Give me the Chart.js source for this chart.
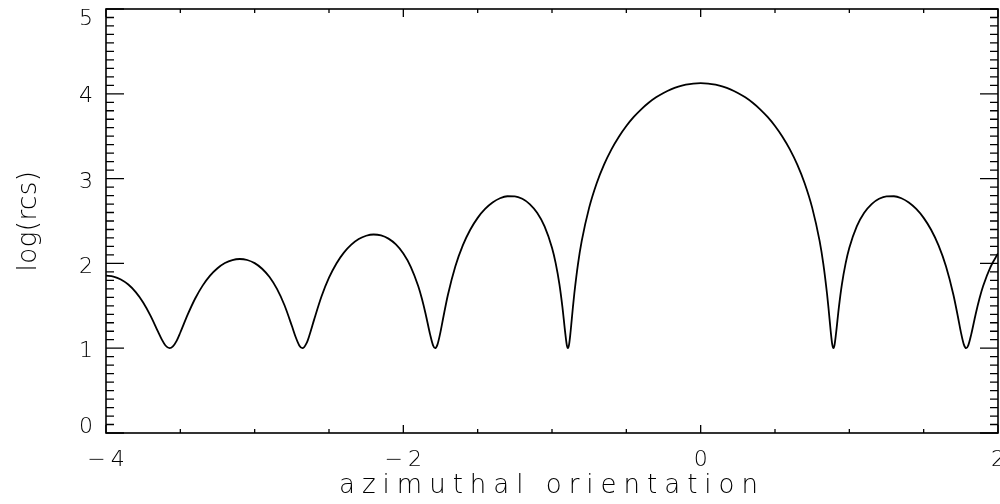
<!DOCTYPE html>
<html>
<head>
<meta charset="utf-8">
<script src="https://cdn.jsdelivr.net/npm/chart.js@4.4.1/dist/chart.umd.min.js"></script>
<style>
html,body{margin:0;padding:0;background:#fff;}
#wrap{width:1000px;height:504px;position:relative;}
</style>
</head>
<body>
<div id="wrap"><canvas id="c" width="1000" height="504"></canvas></div>
<script>
// ---- data ----
const orientation = [
  -4.00,-3.95,-3.90,-3.85,-3.80,-3.75,-3.70,-3.65,-3.625,-3.60,-3.572,-3.55,-3.525,-3.50,-3.45,-3.40,-3.35,-3.30,-3.25,-3.20,
  -3.15,-3.10,-3.05,-3.00,-2.95,-2.90,-2.85,-2.80,-2.75,-2.725,-2.70,-2.679,-2.65,-2.63,-2.60,-2.55,-2.50,-2.45,-2.40,-2.35,
  -2.30,-2.25,-2.20,-2.15,-2.10,-2.05,-2.00,-1.95,-1.90,-1.875,-1.85,-1.82,-1.80,-1.786,-1.77,-1.75,-1.73,-1.70,-1.65,-1.60,
  -1.55,-1.50,-1.45,-1.40,-1.35,-1.30,-1.25,-1.20,-1.15,-1.10,-1.05,-1.00,-0.975,-0.95,-0.93,-0.91,-0.90,-0.893,-0.885,-0.875,
  -0.87,-0.86,-0.85,-0.825,-0.80,-0.75,-0.70,-0.65,-0.60,-0.55,-0.50,-0.45,-0.40,-0.35,-0.30,-0.25,-0.20,-0.15,-0.10,-0.05,
  0.00,
  0.05,0.10,0.15,0.20,0.25,0.30,0.35,0.40,0.45,0.50,0.55,0.60,0.65,0.70,0.75,0.80,0.825,0.85,0.86,0.87,
  0.875,0.885,0.893,0.90,0.91,0.93,0.95,0.975,1.00,1.05,1.10,1.15,1.20,1.25,1.30,1.35,1.40,1.45,1.50,1.55,
  1.60,1.65,1.70,1.73,1.75,1.77,1.786,1.80,1.82,1.85,1.875,1.90,1.95,2.00
];
const logRcs = [
  1.856,1.845,1.811,1.751,1.662,1.540,1.382,1.195,1.104,1.032,1.000,1.021,1.086,1.185,1.398,1.586,1.738,1.856,1.943,2.004,
  2.040,2.052,2.040,2.003,1.937,1.839,1.699,1.509,1.264,1.135,1.033,1.000,1.063,1.161,1.337,1.612,1.831,1.999,2.127,2.221,
  2.287,2.326,2.341,2.330,2.292,2.223,2.116,1.960,1.733,1.583,1.404,1.163,1.033,1.000,1.045,1.192,1.374,1.631,1.967,2.213,
  2.397,2.537,2.642,2.718,2.768,2.792,2.791,2.762,2.700,2.597,2.437,2.185,2.001,1.754,1.488,1.165,1.033,1.000,1.045,1.194,
  1.286,1.471,1.642,1.995,2.265,2.658,2.943,3.165,3.345,3.494,3.620,3.727,3.817,3.894,3.958,4.010,4.053,4.085,4.107,4.121,
  4.125,
  4.121,4.107,4.085,4.053,4.010,3.958,3.894,3.817,3.727,3.620,3.494,3.345,3.165,2.943,2.658,2.265,1.995,1.642,1.471,1.286,
  1.194,1.045,1.000,1.033,1.165,1.488,1.754,2.001,2.185,2.437,2.597,2.700,2.762,2.791,2.792,2.768,2.718,2.642,2.537,2.397,
  2.213,1.967,1.631,1.374,1.192,1.045,1.000,1.033,1.163,1.404,1.583,1.733,1.960,2.116
];
const xTickValues = [-4, -2, 0, 2];
const yTickValues = [0, 1, 2, 3, 4, 5];
const xMinorStep = 0.5;
const yMinorStep = 0.1;
const xTitle = 'azimuthal orientation';
const yTitle = 'log(rcs)';

// ---- chart ----
const FONT = '"DejaVu Sans", "Liberation Sans", sans-serif';
const yLabelShift = {0: -6, 1: 3, 2: 3.5, 3: 3.5, 4: 2.5, 5: 10.5};

const framePlugin = {
  id: 'idlFrame',
  beforeDraw(chart) {
    const spacing = {x: {labels: '5px', title: '7px'}, y: {labels: '0px', title: '0.5px'}};
    for (const id of ['x', 'y']) {
      const s = chart.scales[id];
      if (!s || s._lsPatched) continue;
      const dl = s.drawLabels, dt = s.drawTitle;
      s.drawLabels = function (a) { const c = this.ctx; c.save(); c.letterSpacing = spacing[id].labels; dl.call(this, a); c.restore(); };
      s.drawTitle = function (a) { const c = this.ctx; c.save(); c.letterSpacing = spacing[id].title; dt.call(this, a); c.restore(); };
      s._lsPatched = true;
    }
  },
  afterDraw(chart) {
    const {ctx, chartArea, scales} = chart;
    const {left, right, top, bottom} = chartArea;
    const xs = scales.x, ys = scales.y;
    ctx.save();
    ctx.strokeStyle = '#000';
    ctx.lineWidth = 1.6;
    ctx.strokeRect(left, top, right - left, bottom - top);
    ctx.lineWidth = 1.3;
    ctx.beginPath();
    const nx = Math.round((xs.max - xs.min) / xMinorStep);
    for (let i = 0; i <= nx; i++) {
      const v = xs.min + i * xMinorStep;
      const px = xs.getPixelForValue(v);
      const major = xTickValues.some(t => Math.abs(t - v) < 1e-6);
      const L = major ? 8 : 4;
      ctx.moveTo(px, bottom); ctx.lineTo(px, bottom - L);
      ctx.moveTo(px, top); ctx.lineTo(px, top + L);
    }
    const ny = Math.round((ys.max - ys.min) / yMinorStep);
    for (let i = 0; i <= ny; i++) {
      const v = ys.min + i * yMinorStep;
      const py = ys.getPixelForValue(v);
      const major = yTickValues.some(t => Math.abs(t - v) < 1e-6);
      const L = major ? 18 : 8;
      ctx.moveTo(left, py); ctx.lineTo(left + L, py);
      ctx.moveTo(right, py); ctx.lineTo(right - L, py);
    }
    ctx.stroke();
    ctx.restore();
  }
};

new Chart(document.getElementById('c'), {
  type: 'line',
  data: {
    datasets: [{
      data: orientation.map((x, i) => ({x: x, y: logRcs[i]})),
      borderColor: '#000',
      borderWidth: 1.8,
      pointRadius: 0,
      fill: false,
      cubicInterpolationMode: 'monotone'
    }]
  },
  options: {
    responsive: false,
    devicePixelRatio: 1,
    animation: false,
    layout: {padding: {top: 9, right: 2, left: 0, bottom: 0}},
    plugins: {legend: {display: false}, tooltip: {enabled: false}},
    scales: {
      x: {
        type: 'linear',
        min: -4, max: 2,
        grid: {display: false, drawTicks: false},
        border: {display: false},
        afterBuildTicks: s => { s.ticks = xTickValues.map(v => ({value: v})); },
        afterFit: s => { s.height = 71; s.paddingLeft = 0; s.paddingRight = 0; },
        ticks: {
          color: '#000',
          padding: 14,
          labelOffset: 2.5,
          maxRotation: 0,
          autoSkip: false,
          font: {family: FONT, size: 22, weight: 300},
          callback: v => (v < 0 ? '\u2212' : '') + Math.abs(v)
        },
        title: {
          display: true,
          text: xTitle,
          color: '#000',
          font: {family: FONT, size: 26, weight: 300},
          padding: {top: 0, bottom: 2}
        }
      },
      y: {
        type: 'linear',
        min: 0, max: 5,
        grid: {display: false, drawTicks: false},
        border: {display: false},
        afterBuildTicks: s => { s.ticks = yTickValues.map(v => ({value: v})); },
        afterFit: s => { s.width = 106; s.paddingTop = 0; s.paddingBottom = 0; },
        ticks: {
          color: '#000',
          padding: 13,
          autoSkip: false,
          font: ctx => {
            const sh = yLabelShift[ctx.tick ? ctx.tick.value : 1] || 0;
            return {family: FONT, size: 22, weight: 300, lineHeight: (Math.abs(sh) * 2 || 1) + 'px'};
          },
          callback: v => {
            const sh = yLabelShift[v] || 0;
            const t = String(v);
            return sh >= 0 ? ['', t] : [t, ''];
          }
        },
        title: {
          display: true,
          text: yTitle,
          color: '#000',
          font: {family: FONT, size: 26, weight: 300},
          padding: {top: 14, bottom: 0}
        }
      }
    }
  },
  plugins: [framePlugin]
});
</script>
</body>
</html>
